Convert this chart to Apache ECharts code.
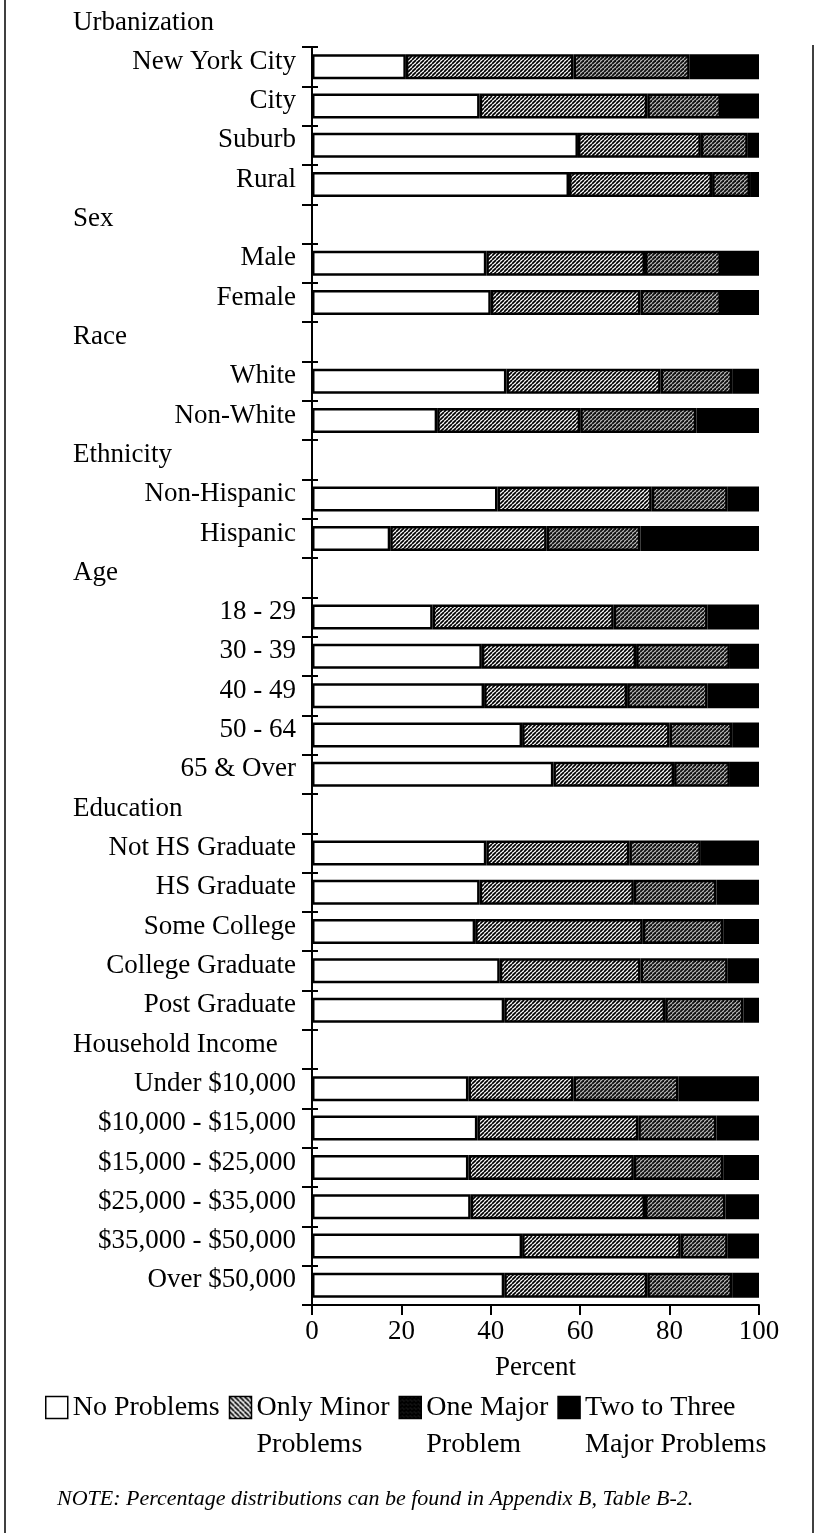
<!DOCTYPE html>
<html><head><meta charset="utf-8">
<script src="https://cdn.jsdelivr.net/npm/echarts@6/dist/echarts.min.js"></script>
<style>html,body{margin:0;padding:0;background:#fff}#c{width:817px;height:1533px}</style>
</head><body><div id="c"></div>
<script>
const categories = ['New York City','City','Suburb','Rural','Sex','Male','Female','Race','White','Non-White','Ethnicity','Non-Hispanic','Hispanic','Age','18 - 29','30 - 39','40 - 49','50 - 64','65 & Over','Education','Not HS Graduate','HS Graduate','Some College','College Graduate','Post Graduate','Household Income','Under $10,000','$10,000 - $15,000','$15,000 - $25,000','$25,000 - $35,000','$35,000 - $50,000','Over $50,000'];
const groupHeaders = ['Urbanization','Sex','Race','Ethnicity','Age','Education','Household Income'];
const seriesNames = ['No Problems','Only Minor Problems','One Major Problem','Two to Three Major Problems'];
const legendLabels = ['No Problems','Only Minor\nProblems','One Major\nProblem','Two to Three\nMajor Problems'];
const xTicks = [0,20,40,60,80,100];
const noProblems = [21,37.5,59.5,57.5,null,39,40,null,43.5,28,null,41.5,17.5,null,27,38,38.5,47,54,null,39,37.5,36.5,42,43,null,35,37,35,35.5,47,43];
const onlyMinor  = [37.5,37.5,27.5,32,null,35.5,33.5,null,34.5,32,null,34.5,35,null,40.5,34.5,32,33,27,null,32,34.5,37.5,31.5,36,null,23.5,36,37,39,35.5,32];
const oneMajor   = [26,16.5,10.5,8.5,null,17,18,null,16,26,null,17,21,null,21,21,18,14,12.5,null,16,18.5,18,19.5,17.5,null,23.5,17.5,20,18,10.5,19];
const twoThree   = [15.5,8.5,2.5,2,null,8.5,8.5,null,6,14,null,7,26.5,null,11.5,6.5,11.5,6,6.5,null,13,9.5,8,7,3.5,null,18,9.5,8,7.5,7,6];

const FONT = '"Liberation Serif", "Times New Roman", serif';

function hatch(size, lw, back, bg, fg) {
  const c = document.createElement('canvas');
  c.width = size; c.height = size;
  const g = c.getContext('2d');
  g.fillStyle = bg; g.fillRect(0, 0, size, size);
  g.strokeStyle = fg; g.lineWidth = lw;
  for (let k = -1; k <= 1; k++) {
    g.beginPath();
    if (!back) { g.moveTo(k * size, size); g.lineTo(k * size + size, 0); }
    else { g.moveTo(k * size, 0); g.lineTo(k * size + size, size); }
    g.stroke();
  }
  return { image: c, repeat: 'repeat' };
}
const minorPat = hatch(4, 1.7, false, '#fff', '#000');
const majorPat = hatch(4, 1.9, false, '#bdbdbd', '#111');
const minorLegPat = hatch(5, 1.8, true, '#fff', '#000');
const majorLegPat = hatch(4, 3.2, false, '#444', '#000');

const colors = ['#ffffff', minorPat, majorPat, '#000000'];
const legendColors = ['#ffffff', minorLegPat, majorLegPat, '#000000'];
const values = [noProblems, onlyMinor, oneMajor, twoThree];

const chart = echarts.init(document.getElementById('c'), null, { renderer: 'canvas' });
const option = {
  backgroundColor: '#fff',
  animation: false,
  textStyle: { fontFamily: FONT, color: '#000' },
  grid: { left: 312, right: 58, top: 47, bottom: 228, containLabel: false, outerBoundsMode: 'none' },
  xAxis: {
    type: 'value', min: xTicks[0], max: xTicks[xTicks.length - 1], interval: 20,
    axisLine: { show: true, lineStyle: { color: '#000', width: 2 } },
    axisTick: { show: true, length: 10, lineStyle: { color: '#000', width: 2 } },
    splitLine: { show: false },
    axisLabel: { fontSize: 27, margin: 13, color: '#000', fontFamily: FONT },
    name: 'Percent', nameLocation: 'middle', nameGap: 49,
    nameTextStyle: { fontSize: 27, color: '#000', fontFamily: FONT }
  },
  yAxis: [{
    type: 'category', data: categories, inverse: true,
    axisLine: { show: true, lineStyle: { color: '#000', width: 2 } },
    axisTick: { show: true, length: 10, lineStyle: { color: '#000', width: 2 } },
    axisLabel: {
      margin: 16, color: '#000', fontFamily: FONT, fontSize: 27, padding: [0, 0, 10, 0],
      formatter: v => (groupHeaders.indexOf(v) >= 0 ? '{h|' + v + '}' : '{i|' + v + '}'),
      rich: {
        h: { width: 223, align: 'left', fontSize: 27, fontFamily: FONT, color: '#000' },
        i: { width: 223, align: 'right', fontSize: 27, fontFamily: FONT, color: '#000' }
      }
    }
  }, {
    type: 'category', data: categories, inverse: true, position: 'left',
    axisLine: { show: false },
    axisTick: { show: true, inside: true, length: 6, lineStyle: { color: '#000', width: 2 } },
    axisLabel: { show: false }
  }],
  legend: {
    left: 40, top: 1347, itemWidth: 22, itemHeight: 22, itemGap: 9, icon: 'rect',
    itemStyle: { borderColor: '#000', borderWidth: 1.5 },
    textStyle: { fontSize: 28, lineHeight: 37, fontFamily: FONT, color: '#000' },
    formatter: n => '\n' + legendLabels[seriesNames.indexOf(n)] + (legendLabels[seriesNames.indexOf(n)].indexOf('\n') < 0 ? '\n ' : ''),
    data: seriesNames.map((n, i) => ({ name: n, itemStyle: { color: legendColors[i], borderColor: '#000', borderWidth: 1.5 } }))
  },
  series: seriesNames.map((n, i) => ({
    name: n, type: 'bar', stack: 'total', yAxisIndex: 0, barWidth: 25,
    itemStyle: { color: colors[i], borderColor: '#000', borderWidth: 2.5 },
    data: values[i]
  })),
  graphic: [
    { type: 'text', left: 73, top: 9, style: { text: groupHeaders[0], font: '27px ' + FONT, fill: '#000' } },
    { type: 'text', left: 57, top: 1488, style: { text: 'NOTE: Percentage distributions can be found in Appendix B, Table B-2.', font: 'italic 22px ' + FONT, fill: '#000' } },
    { type: 'line', shape: { x1: 5, y1: 0, x2: 5, y2: 1533 }, style: { stroke: '#000', lineWidth: 1.5 } },
    { type: 'line', shape: { x1: 813, y1: 45, x2: 813, y2: 1533 }, style: { stroke: '#000', lineWidth: 1.5 } }
  ]
};
chart.setOption(option);
</script></body></html>
